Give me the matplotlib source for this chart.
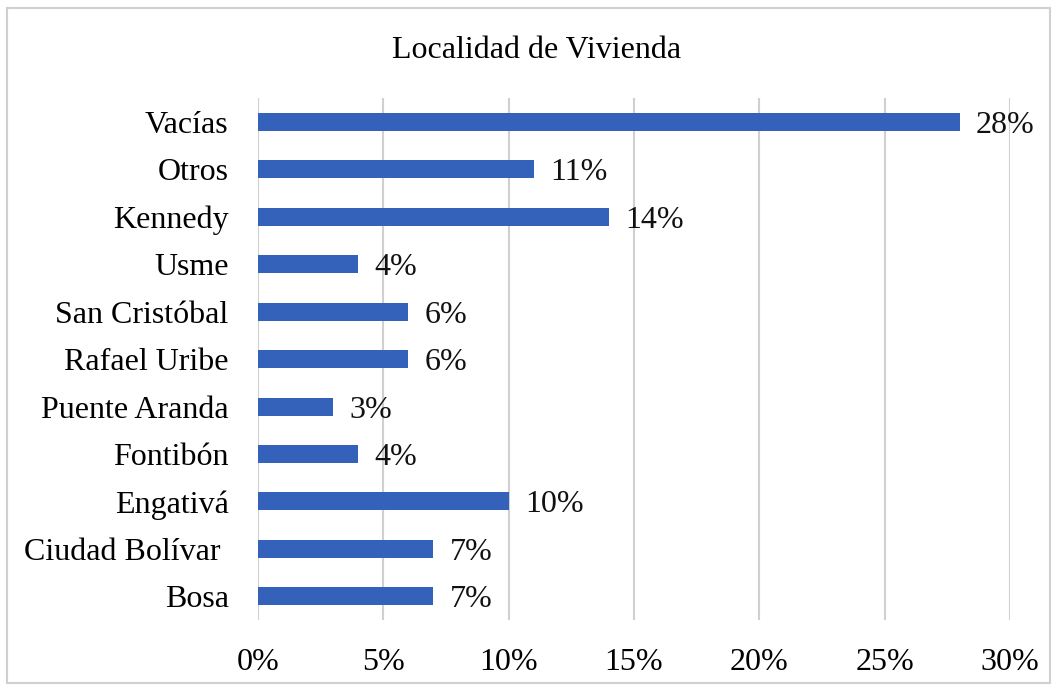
import matplotlib.pyplot as plt
from matplotlib.patches import Rectangle

categories = ["Bosa", "Ciudad Bolívar ", "Engativá", "Fontibón", "Puente Aranda",
              "Rafael Uribe", "San Cristóbal", "Usme", "Kennedy", "Otros", "Vacías"]
values = [7, 7, 10, 4, 3, 6, 6, 4, 14, 11, 28]
xticks = [0, 5, 10, 15, 20, 25, 30]

plt.rcParams['font.family'] = ['Liberation Serif', 'DejaVu Serif']

fig = plt.figure(figsize=(10.57, 6.87), dpi=100)
ax = fig.add_axes([0.244, 0.0975, 0.7115, 0.7595])

pos = list(range(len(categories)))
ax.barh(pos, values, height=0.38, color="#3461BA", zorder=3)
for y, v in zip(pos, values):
    ax.text(v + 0.65, y, f"{v}%", va="center_baseline", ha="left", fontsize=23, color="#111111")

ax.set_xlim(0, 30)
ax.set_ylim(-0.5, 10.5)
ax.set_xticks(xticks)
ax.set_xticklabels([f"{t}%" for t in xticks], fontsize=23)
ax.set_yticks(pos)
ax.set_yticklabels(categories, fontsize=23)
for lbl in ax.get_yticklabels():
    lbl.set_verticalalignment("center_baseline")
ax.tick_params(axis='x', length=0, pad=20)
ax.tick_params(axis='y', length=0, pad=21)
ax.xaxis.grid(True, color="#D0D0D0", linewidth=1.5, zorder=0)
for s in ax.spines.values():
    s.set_visible(False)

fig.text(0.508, 0.926, "Localidad de Vivienda", ha="center", va="center", fontsize=23)
fig.patches.append(Rectangle((0.007, 0.006), 0.986, 0.982, transform=fig.transFigure,
                             fill=False, edgecolor="#D0D0D0", linewidth=1.5))

fig.savefig("out.png", dpi=100)
